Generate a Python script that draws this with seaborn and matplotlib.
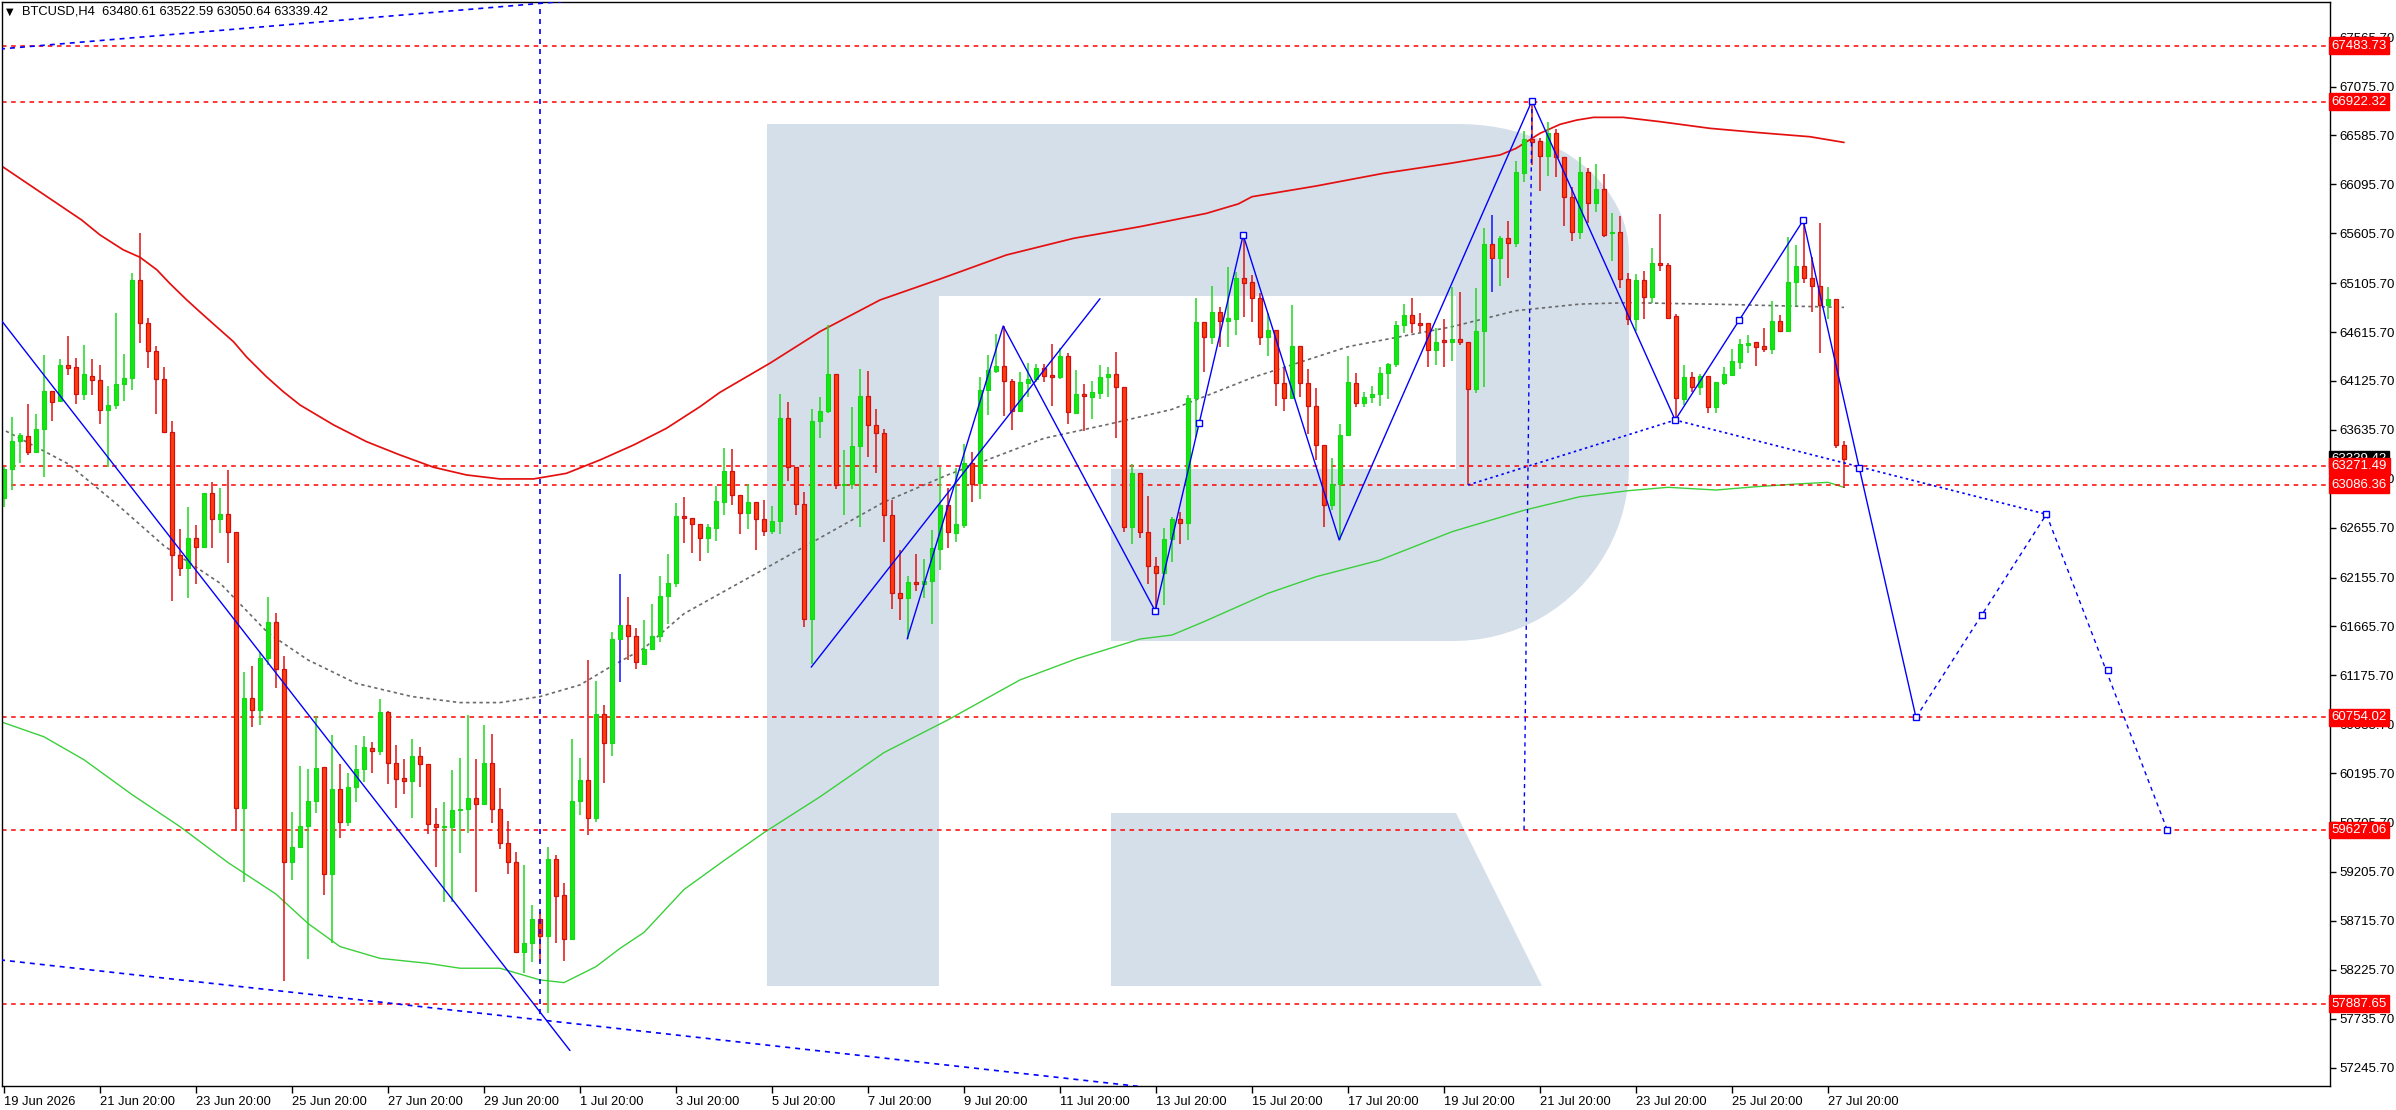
import numpy as np
import matplotlib
matplotlib.use('Agg')
import matplotlib.pyplot as plt
import matplotlib.transforms as mtransforms
from matplotlib.patches import Polygon
import seaborn as sns

# ---- chart data (BTCUSD, H4) ----
symbol = 'BTCUSD,H4'
last_ohlc = [63480.61, 63522.59, 63050.64, 63339.42]

opens = [
    62957, 63246, 63526, 63575, 63411, 63645, 64024, 63920, 64288, 64263,
    63999, 64179, 64134, 63830, 63885, 64094, 64154, 65136, 64702, 64428,
    64144, 63610, 62384, 62249, 62549, 62464, 63002, 62738, 62788, 62613,
    59847, 60948, 60829, 61352, 61711, 61237, 59308, 59458, 59667, 59921,
    60256, 59182, 60037, 59710, 60054, 60234, 60445, 60422, 60806, 60295,
    60144, 60121, 60368, 60285, 59683, 59653, 59660, 59824, 59834, 59944,
    59884, 60295, 59834, 59493, 59309, 58408, 58491, 58732, 58568, 59333,
    58975, 58531, 59917, 60128, 59750, 60789, 60502, 61540, 61681, 61574,
    61288, 61435, 61574, 61975, 62098, 62768, 62752, 62688, 62549, 62650,
    62912, 63224, 62979, 62806, 62912, 62739, 62625, 62722, 63756, 63262,
    62891, 61743, 63722, 63823, 64194, 63081, 63093, 63469, 63975, 63688,
    63604, 62785, 62005, 61950, 62110, 62089, 62119, 62440, 62887, 62606,
    62683, 63300, 63107, 64035, 64229, 64276, 64122, 63828, 64109, 64146,
    64256, 64186, 64169, 64376, 63808, 63995, 63968, 64009, 64162, 64196,
    64062, 62659, 63200, 62616, 62272, 62198, 62539, 62739, 62706, 63952,
    64713, 64563, 64813, 64730, 64750, 65157, 65114, 64953, 64569, 64636,
    64108, 63951, 64476, 64102, 63874, 63480, 62879, 63093, 63581, 64102,
    63901, 63961, 63995, 64202, 64295, 64683, 64783, 64703, 64703, 64436,
    64536, 64519, 64542, 64519, 64041, 64626, 65494, 65354, 65555, 65504,
    66206, 66550, 66530, 66383, 66613, 66366, 65972, 65621, 66219, 65905,
    66049, 65604, 65614, 65150, 64743, 65137, 64963, 65307, 65284, 64776,
    63941, 64168, 64061, 64175, 63861, 64108, 64188, 64319, 64489, 64513,
    64476, 64449, 64726, 64630, 65117, 65277, 65154, 65077, 64883, 64943,
    63480.61,
]
highs = [
    63260, 63765, 63605, 63895, 63795, 64383, 64024, 64343, 64578, 64353,
    64483, 64343, 64288, 64079, 64807, 64393, 65206, 65609, 64757, 64478,
    64263, 63720, 62638, 62858, 62683, 63002, 63112, 63057, 63232, 62613,
    61208, 61267, 61407, 61965, 61796, 61372, 59802, 60270, 60241, 60764,
    60256, 60579, 60288, 60194, 60478, 60569, 60508, 60936, 60819, 60478,
    60335, 60535, 60458, 60285, 59844, 59904, 60228, 60348, 60779, 60335,
    60679, 60589, 60044, 59717, 59410, 59276, 58875, 58808, 59460, 59376,
    59099, 60538, 60348, 61330, 61120, 60879, 61614, 62192, 61965, 61646,
    61730, 61891, 62169, 62389, 62903, 62963, 62752, 62688, 62692, 63072,
    63452, 63439, 62979, 63089, 62912, 62929, 62870, 63992, 63916, 63262,
    63017, 63849, 63967, 64684, 64194, 63435, 63865, 64241, 64224, 63849,
    63646, 62929, 62431, 62169, 62389, 62342, 62634, 63266, 63050, 63250,
    63491, 63411, 64162, 64386, 64596, 64676, 64146, 64216, 64306, 64296,
    64296, 64496, 64453, 64409, 64236, 64095, 64125, 64286, 64266, 64413,
    64062, 63290, 63200, 62973, 62358, 62656, 62766, 62816, 63985, 64957,
    64713, 65081, 64870, 65264, 65218, 65590, 65188, 65004, 64803, 64636,
    64259, 64887, 64476, 64249, 64055, 63480, 63350, 63694, 64375, 64202,
    64018, 64075, 64269, 64302, 64726, 64897, 64954, 64803, 64703, 64653,
    64743, 65070, 65020, 64519, 65054, 65655, 65788, 65578, 65728, 66329,
    66630, 66957, 66557, 66717, 66647, 66366, 66066, 66366, 66256, 66299,
    66199, 65805, 65778, 65204, 65197, 65227, 65458, 65798, 65304, 64793,
    64285, 64212, 64195, 64175, 64115, 64269, 64442, 64546, 64586, 64513,
    64653, 64930, 64786, 65571, 65488, 65738, 65364, 65705, 65070, 64943,
    63522.59,
]
lows = [
    62858, 63037, 63306, 63386, 63411, 63167, 63720, 63910, 64189, 63890,
    63939, 63989, 63690, 63261, 63845, 63929, 64039, 64503, 64258, 63790,
    63610, 61925, 62175, 61950, 62095, 62464, 62449, 62598, 62304, 59617,
    59104, 60659, 60674, 61277, 61053, 58112, 59129, 59458, 58331, 59800,
    58974, 58498, 59550, 59670, 59911, 60108, 60194, 60381, 60084, 59850,
    59984, 59750, 60061, 59583, 59259, 58902, 58902, 59393, 59593, 59009,
    59877, 59693, 59433, 59182, 58398, 58197, 58307, 58307, 57796, 58498,
    58317, 58531, 59777, 59577, 59710, 60101, 60368, 61106, 61330, 61241,
    61275, 61427, 61507, 61689, 62060, 62507, 62397, 62321, 62406, 62524,
    62785, 62878, 62591, 62646, 62427, 62574, 62591, 62591, 63123, 62785,
    61659, 61288, 63553, 63806, 63047, 62785, 63047, 62659, 63368, 63207,
    62511, 61845, 61730, 61541, 62026, 61950, 61688, 62228, 62455, 62515,
    62656, 62916, 62943, 63785, 64202, 63775, 63634, 63815, 63968, 64119,
    64119, 63875, 64149, 63691, 63801, 63628, 63748, 63948, 63968, 63558,
    62609, 62489, 62556, 62088, 61848, 61881, 62315, 62489, 62532, 63568,
    64219, 64496, 64469, 64469, 64586, 64770, 64720, 64486, 64375, 63878,
    63828, 63951, 63968, 63594, 63333, 62659, 62832, 62532, 63581, 63868,
    63868, 63908, 63878, 63945, 64269, 64603, 64603, 64619, 64269, 64285,
    64269, 64329, 64486, 63083, 64001, 64061, 65020, 65080, 65160, 65471,
    66122, 66289, 66032, 66179, 66166, 65681, 65531, 65544, 65705, 65822,
    65571, 65327, 65054, 64686, 64629, 64750, 64910, 65230, 64746, 63734,
    63885, 64018, 63985, 63801, 63808, 64085, 64175, 64249, 64409, 64275,
    64416, 64396, 64619, 64630, 64876, 65110, 64820, 64402, 64743, 63457,
    63050.64,
]
closes = [
    63246, 63526, 63585, 63411, 63645, 64024, 63910, 64288, 64258, 63999,
    64194, 64134, 63830, 63885, 64094, 64154, 65136, 64702, 64428, 64144,
    63610, 62384, 62249, 62549, 62464, 63002, 62738, 62788, 62613, 59847,
    60948, 60829, 61352, 61711, 61237, 59308, 59458, 59667, 59921, 60246,
    59183, 60037, 59710, 60054, 60234, 60455, 60422, 60806, 60295, 60141,
    60121, 60368, 60285, 59683, 59653, 59667, 59824, 59834, 59944, 59884,
    60295, 59834, 59493, 59309, 58408, 58491, 58732, 58568, 59333, 58969,
    58531, 59917, 60128, 59750, 60789, 60502, 61540, 61681, 61574, 61309,
    61435, 61574, 61975, 62098, 62768, 62752, 62688, 62549, 62659, 62920,
    63224, 62979, 62806, 62912, 62739, 62625, 62722, 63756, 63262, 62891,
    61743, 63722, 63823, 64194, 63081, 63093, 63469, 63975, 63688, 63604,
    62785, 62005, 61950, 62110, 62089, 62119, 62448, 62887, 62608, 62692,
    63300, 63093, 64035, 64236, 64276, 64129, 63828, 64112, 64146, 64256,
    64179, 64169, 64376, 63818, 63995, 63972, 64015, 64162, 64196, 64062,
    62659, 63200, 62616, 62272, 62198, 62539, 62739, 62706, 63952, 64713,
    64563, 64813, 64730, 64753, 65157, 65104, 64953, 64569, 64636, 64108,
    63951, 64476, 64102, 63874, 63480, 62879, 63093, 63581, 64112, 63901,
    63961, 63995, 64202, 64295, 64683, 64783, 64703, 64686, 64436, 64519,
    64519, 64542, 64519, 64041, 64626, 65494, 65354, 65555, 65504, 66216,
    66550, 66523, 66383, 66613, 66366, 65972, 65621, 66219, 65905, 66049,
    65588, 65618, 65150, 64743, 65137, 64963, 65307, 65284, 64760, 63951,
    64168, 64061, 64175, 63861, 64115, 64195, 64325, 64496, 64503, 64469,
    64449, 64726, 64630, 65117, 65277, 65154, 65077, 64883, 64943, 63480,
    63339.42,
]
blue_wick_bars = [77, 186]

# moving averages, read at sample bars
red_ma_bars = [-0.5, 9.7, 12, 14.9, 17, 19.1, 20.75, 22.8, 24.5, 26.6, 28.7, 30.3,
               32.8, 34.9, 37, 41.2, 45.3, 49.5, 53.7, 57.8, 62, 66.2, 70.3, 74.5,
               78.7, 82.8, 87, 89.5, 95.75, 102, 109.5, 117, 125.3, 133.7, 142,
               150.3, 154.3, 156, 164, 172.4, 180.75, 187, 189, 192, 194.5, 196.6,
               198.7, 202.4, 207, 213.25, 219.5, 225.75, 230]
red_ma_vals = [66290, 65739, 65589, 65440, 65365, 65240, 65101, 64941, 64817, 64667,
               64518, 64368, 64169, 64019, 63885, 63685, 63518, 63384, 63261, 63184,
               63144, 63144, 63200, 63334, 63484, 63651, 63868, 64012, 64304, 64621,
               64937, 65147, 65388, 65555, 65672, 65805, 65900, 65972, 66079, 66206,
               66306, 66390, 66456, 66607, 66697, 66740, 66767, 66767, 66724, 66657,
               66613, 66573, 66516]
green_ma_bars = [-0.5, 5, 10, 16, 22, 28, 34, 38, 42, 47, 53, 57, 62, 67, 70, 74, 77,
                 80, 85, 90, 95, 102, 110, 118, 127, 134, 142, 146, 150, 158, 164,
                 172, 181, 190, 197, 203, 208, 214, 219, 224, 228, 230]
green_ma_vals = [60714, 60560, 60330, 59981, 59660, 59300, 58984, 58690, 58458, 58340,
                 58290, 58241, 58241, 58124, 58097, 58257, 58440, 58600, 59030, 59320,
                 59600, 59959, 60402, 60730, 61130, 61340, 61540, 61580, 61714, 61998,
                 62164, 62331, 62615, 62830, 62966, 63026, 63060, 63033, 63066, 63093,
                 63110, 63060]
gray_ma_bars = [-0.5, 8, 14, 20, 27, 33, 38, 44, 51, 57, 62, 67, 72, 76, 80, 85, 94,
                102, 110, 118, 130, 138, 146, 156, 168, 181, 189, 197, 203, 215, 230]
gray_ma_vals = [63655, 63296, 62898, 62474, 62100, 61601, 61330, 61096, 60963, 60903,
                60903, 60963, 61080, 61270, 61447, 61794, 62195, 62553, 62912, 63186,
                63551, 63691, 63841, 64158, 64469, 64669, 64830, 64896, 64910, 64893,
                64863]

# horizontal levels
levels = [67483.73, 66922.32, 63271.49, 63086.36, 60754.02, 59627.06, 57887.65]

# drawn objects (bar, price)
trend_bars, trend_vals = [-0.5, 70.75], [64750, 57416]
low_dash_bars, low_dash_vals = [-0.5, 146], [58325, 57020]
top_dash_bars, top_dash_vals = [-0.5, 76], [67452, 67970]
vline1_bars, vline1_vals = [67, 67], [67970, 57740]
vline2_bars, vline2_vals = [191, 190], [66934, 59600]
channel_bars, channel_vals = [100.9, 137], [61258, 64950]
zigzag_bars = [112.9, 124.9, 143.9, 154.9, 166.9, 191, 208.9, 224.9, 231.9, 239]
zigzag_vals = [61541, 64676, 61821, 65588, 62532, 66934, 63734, 65735, 63257, 60754]
proj_bars, proj_vals = [239, 255.3, 270.4], [60754, 62790, 59627]
dotted_bars, dotted_vals = [183, 208.9, 255.3], [63083, 63734, 62790]
marker_bars = [143.9, 149.4, 154.9, 191, 208.9, 216.9, 224.9, 231.9, 239, 247.2, 255.3,
               263, 270.4]
marker_vals = [61821, 63701, 65588, 66934, 63734, 64736, 65735, 63257, 60754, 61781,
               62790, 61230, 59627]

ytick_vals = [67565.70, 67075.70, 66585.70, 66095.70, 65605.70, 65105.70, 64615.70,
              64125.70, 63635.70, 63145.70, 62655.70, 62155.70, 61665.70, 61175.70,
              60685.70, 60195.70, 59705.70, 59205.70, 58715.70, 58225.70, 57735.70,
              57245.70]
xtick_labels = ['19 Jun 2026', '21 Jun 20:00', '23 Jun 20:00', '25 Jun 20:00',
                '27 Jun 20:00', '29 Jun 20:00', '1 Jul 20:00', '3 Jul 20:00',
                '5 Jul 20:00', '7 Jul 20:00', '9 Jul 20:00', '11 Jul 20:00',
                '13 Jul 20:00', '15 Jul 20:00', '17 Jul 20:00', '19 Jul 20:00',
                '21 Jul 20:00', '23 Jul 20:00', '25 Jul 20:00', '27 Jul 20:00']

# ---- figure ----
sns.set_style('white')
plt.rcParams['font.family'] = ['Liberation Sans', 'DejaVu Sans']

W, H = 2396, 1110
fig = plt.figure(figsize=(W / 100, H / 100), dpi=100)
ax = fig.add_axes([2 / W, 24 / H, 2328 / W, 1084 / H])
ax.set_xlim(-0.25, 290.75)
ax.set_ylim(57061, 67923)

# watermark logo (pixel coords, y down)
px = mtransforms.Affine2D().scale(1 / W, -1 / H).translate(0, 1) + fig.transFigure
logo_col = '#d5dfea'


def arc(cx, cy, rx, ry, a0, a1, n=24):
    t = np.radians(np.linspace(a0, a1, n))
    return list(zip(cx + rx * np.cos(t), cy - ry * np.sin(t)))


r_body = ([(767, 124)] + arc(1459, 254, 170, 130, 90, 0) + arc(1454, 466, 175, 175, 0, -90)
          + [(1111, 641), (1111, 469), (1456, 469), (1456, 296), (939, 296), (939, 986),
             (767, 986)])
r_leg = [(1111, 813), (1456, 813), (1542, 986), (1111, 986)]
for pts in (r_body, r_leg):
    ax.add_patch(Polygon(pts, closed=True, transform=px, facecolor=logo_col,
                         edgecolor='none', zorder=0.5))

# moving averages
sns.lineplot(x=red_ma_bars, y=red_ma_vals, ax=ax, color='#e41010', lw=1.25, zorder=1.5)
sns.lineplot(x=green_ma_bars, y=green_ma_vals, ax=ax, color='#3ccf3c', lw=1.0, zorder=1.5)
sns.lineplot(x=gray_ma_bars, y=gray_ma_vals, ax=ax, color='#6a6a6a', lw=1.2,
             linestyle=(0, (2, 2)), zorder=1.5)

# levels
for lv in levels:
    ax.axhline(lv, color='#ff0000', lw=1.1, ls=(0, (3, 3)), zorder=1.8)

# candles
o = np.array(opens, dtype=float)
h = np.array(highs, dtype=float)
l = np.array(lows, dtype=float)
c = np.array(closes, dtype=float)
x = np.arange(len(o))
up = c >= o
wick_col = np.where(up, '#1ed81e', '#e01010').astype(object)
for b in blue_wick_bars:
    wick_col[b] = '#1010ff'
ax.vlines(x, l, h, colors=list(wick_col), lw=1.1, zorder=2)
body_low = np.minimum(o, c)
body_h = np.maximum(np.abs(c - o), 14)
ax.bar(x[up], body_h[up], bottom=body_low[up], width=0.62, color='#14e614',
       edgecolor='#14d814', linewidth=0.8, zorder=2.1)
ax.bar(x[~up], body_h[~up], bottom=body_low[~up], width=0.62, color='#ff3c0c',
       edgecolor='#d01010', linewidth=0.9, zorder=2.1)

# drawn objects
blue = '#0000ff'
ax.plot(trend_bars, trend_vals, color=blue, lw=1.0, zorder=3)
ax.plot(channel_bars, channel_vals, color=blue, lw=1.0, zorder=3)
ax.plot(zigzag_bars, zigzag_vals, color=blue, lw=1.0, zorder=3)
ax.plot(low_dash_bars, low_dash_vals, color=blue, lw=1.2, ls=(0, (3, 3)), zorder=3)
ax.plot(top_dash_bars, top_dash_vals, color=blue, lw=1.2, ls=(0, (3, 3)), zorder=3)
ax.plot(vline1_bars, vline1_vals, color=blue, lw=1.2, ls=(0, (3, 3)), zorder=3)
ax.plot(vline2_bars, vline2_vals, color=blue, lw=1.0, ls=(0, (3, 3)), zorder=3)
ax.plot(proj_bars, proj_vals, color=blue, lw=1.0, ls=(0, (3, 3)), zorder=3)
ax.plot(dotted_bars, dotted_vals, color=blue, lw=1.2, ls=(0, (1.5, 2)), zorder=3)
ax.plot(marker_bars, marker_vals, ls='none', marker='s', ms=4.5, mfc='white',
        mec=blue, mew=1.0, zorder=3.1)

# axes styling
for sp in ax.spines.values():
    sp.set_color('black')
    sp.set_linewidth(1.0)
ax.yaxis.tick_right()
ax.set_yticks(ytick_vals)
ax.set_yticklabels([f'{v:.2f}' for v in ytick_vals])
ax.tick_params(axis='y', right=True, left=False, length=4, width=1, pad=3,
               labelsize=9.5, colors='black')
ax.set_xticks(range(0, 12 * len(xtick_labels), 12))
ax.set_xticklabels(xtick_labels)
ax.tick_params(axis='x', bottom=True, length=5, width=1, pad=2, labelsize=9.3,
               colors='black')
for lbl in ax.get_xticklabels():
    lbl.set_horizontalalignment('left')
ax.set_xlabel('')
ax.set_ylabel('')
ax.grid(False)

# price labels on the scale
ytr = mtransforms.blended_transform_factory(ax.transAxes, ax.transData)
ax.text(1.0008, last_ohlc[3], f'{last_ohlc[3]:.2f}', transform=ytr, ha='left',
        va='center', fontsize=9.5, color='white', clip_on=False, zorder=5,
        bbox=dict(boxstyle='square,pad=0.18', fc='black', ec='black'))
for lv in levels:
    ax.text(1.0008, lv, f'{lv:.2f}', transform=ytr, ha='left', va='center',
            fontsize=9.5, color='white', clip_on=False, zorder=6,
            bbox=dict(boxstyle='square,pad=0.18', fc='#ff0000', ec='#ff0000'))

# header
ax.text(0.0015, 0.996, '\u25bc', transform=ax.transAxes, ha='left', va='top',
        fontsize=7, color='black', family=['DejaVu Sans'])
ax.text(0.0085, 0.997, f'{symbol}  ' + ' '.join(f'{v:.2f}' for v in last_ohlc),
        transform=ax.transAxes, ha='left', va='top', fontsize=9.3, color='black')

fig.savefig('out.png', dpi=100)
